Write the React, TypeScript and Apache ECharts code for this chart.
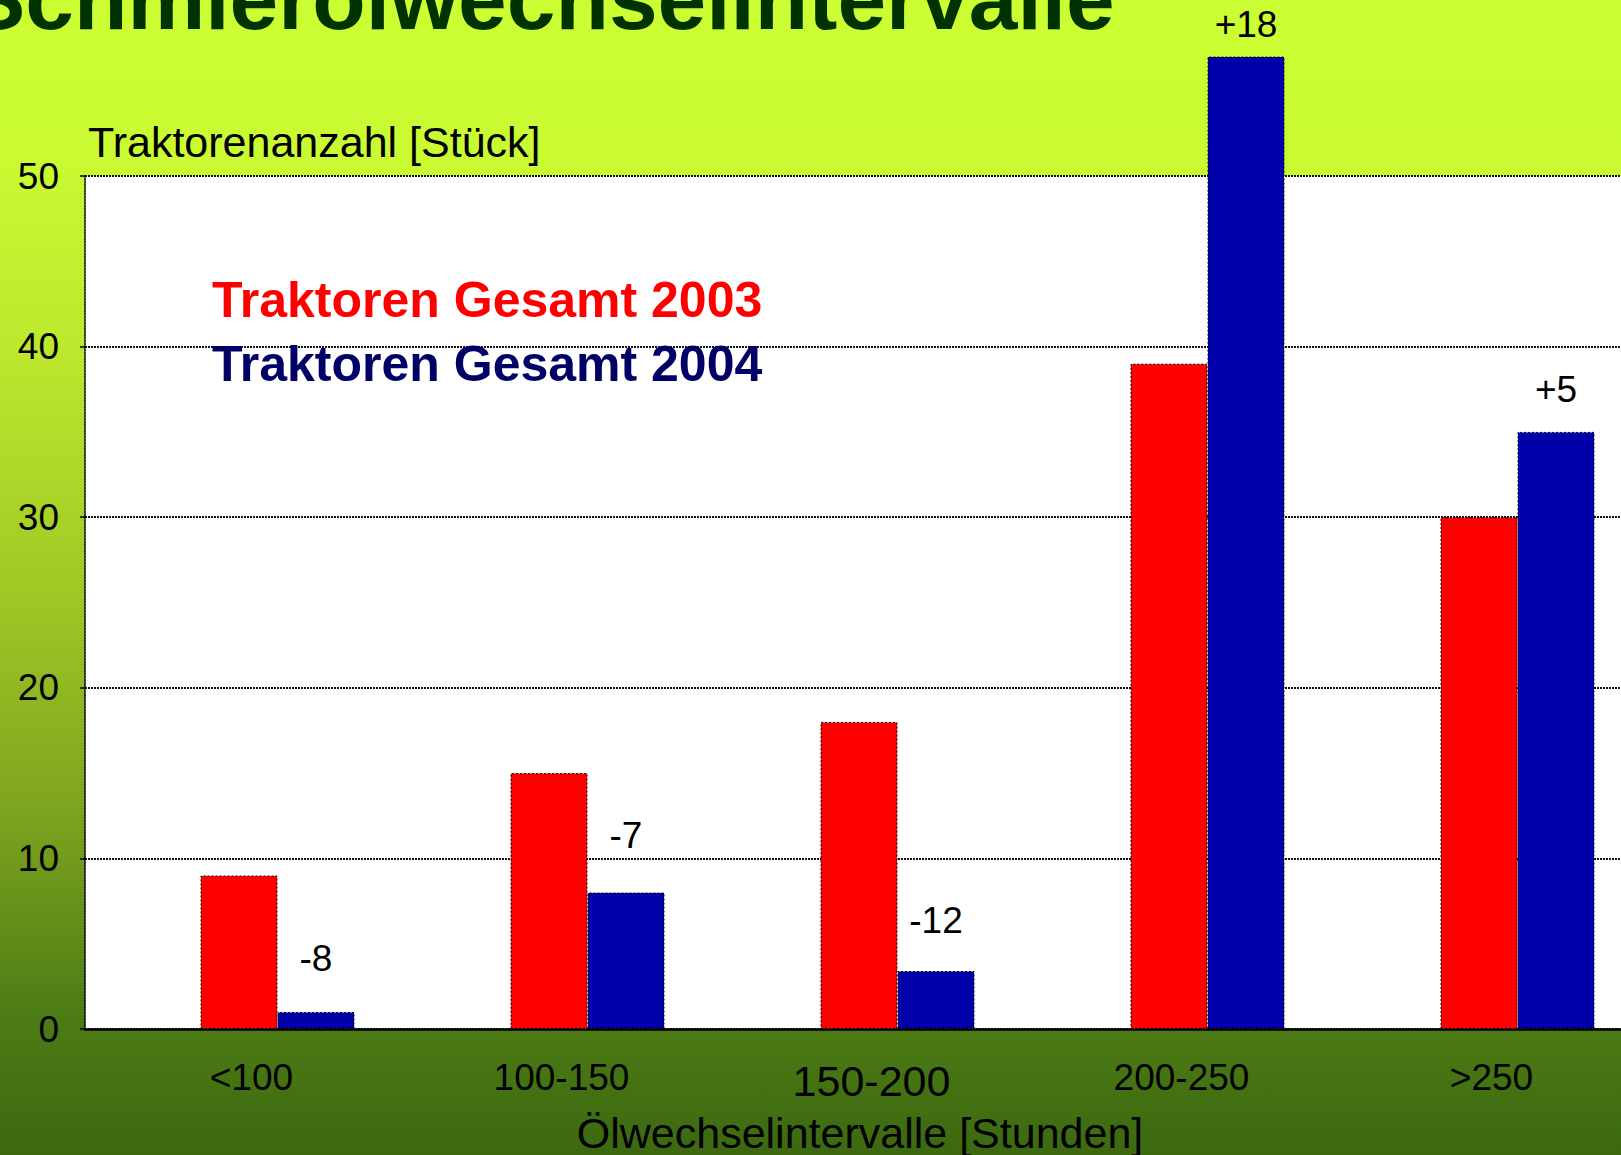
import React, { useEffect, useRef } from "react";
import * as echarts from "echarts";

const categories = ["<100", "100-150", "150-200", "200-250", ">250"];
const values2003 = [9, 15, 18, 39, 30];
const values2004 = [1, 8, 3.4, 57, 35];
const deltaLabels = ["-8", "-7", "-12", "+18", "+5"];
const seriesNames = ["Traktoren Gesamt 2003", "Traktoren Gesamt 2004"];
const yTicks = { min: 0, max: 50, interval: 10 };
const titleText = "Schmierölwechselintervalle";
const yName = "Traktorenanzahl [Stück]";
const xName = "Ölwechselintervalle [Stunden]";

// label styling (gap above each blue bar, in px)
const labelGaps = [35, 39, 32, 14, 24];

const FONT = "'Liberation Sans', Arial, sans-serif";

export default function App() {
  const ref = useRef<HTMLDivElement>(null);
  useEffect(() => {
    if (!ref.current) return;
    const chart = echarts.init(ref.current, null, { renderer: "svg" });
    const option: any = {
      animation: false,
      backgroundColor: {
        type: "linear",
        x: 0,
        y: 0,
        x2: 0,
        y2: 1,
        colorStops: [
          { offset: 0, color: "#ccff33" },
          { offset: 0.14, color: "#c9fa32" },
          { offset: 0.3, color: "#bde82e" },
          { offset: 0.5, color: "#a2ca26" },
          { offset: 0.7, color: "#7ea51f" },
          { offset: 0.88, color: "#4d7c15" },
          { offset: 1, color: "#3c6910" },
        ],
      },
      textStyle: { fontFamily: FONT },
      title: {
        text: titleText,
        left: -33,
        top: -45,
        padding: 0,
        textStyle: {
          fontFamily: FONT,
          fontWeight: "bold",
          fontSize: 87.5,
          color: "#003300",
        },
      },
      legend: {
        orient: "vertical",
        left: 207,
        top: 275,
        padding: 0,
        icon: "none",
        itemWidth: 0,
        itemHeight: 10,
        itemGap: 14,
        selectedMode: false,
        data: [
          {
            name: seriesNames[0],
            textStyle: { color: "#ff0000" },
          },
          {
            name: seriesNames[1],
            textStyle: { color: "#000066" },
          },
        ],
        textStyle: {
          fontFamily: FONT,
          fontWeight: "bold",
          fontSize: 50,
          lineHeight: 50,
        },
      },
      grid: [
        {
          left: 85,
          top: 176,
          width: 1550,
          height: 853,
          show: true,
          backgroundColor: "#ffffff",
          borderWidth: 0,
          outerBoundsMode: "none",
          containLabel: false,
        },
        {
          left: 122.5,
          top: 176,
          width: 1550,
          height: 853,
          show: false,
          outerBoundsMode: "none",
          containLabel: false,
        },
      ],
      xAxis: [
        {
          gridIndex: 0,
          type: "category",
          data: categories,
          name: xName,
          nameLocation: "middle",
          nameGap: 82,
          nameTextStyle: { fontFamily: FONT, fontSize: 43, color: "#000" },
          axisLine: { show: true, lineStyle: { color: "#000", width: 2.5 } },
          axisTick: { show: false },
          axisLabel: { show: false },
          splitLine: { show: false },
        },
        {
          gridIndex: 1,
          type: "category",
          data: categories,
          axisLine: { show: false },
          axisTick: { show: false },
          splitLine: { show: false },
          axisLabel: {
            fontFamily: FONT,
            fontSize: 37,
            color: "#000",
            margin: 30,
            padding: [0, 52, 0, 0],
            formatter: (v: string) => (v === "150-200" ? "{big|" + v + "}" : v),
            rich: { big: { fontFamily: FONT, fontSize: 43, color: "#000" } },
          },
        },
      ],
      yAxis: [
        {
          gridIndex: 0,
          type: "value",
          min: yTicks.min,
          max: yTicks.max,
          interval: yTicks.interval,
          name: yName,
          nameLocation: "end",
          nameGap: 34,
          nameTextStyle: {
            fontFamily: FONT,
            fontSize: 43,
            color: "#000",
            align: "left",
            verticalAlign: "middle",
            padding: [0, 0, 0, 3],
          },
          axisLine: {
            show: true,
            lineStyle: { color: "#000", width: 1.5, type: [2, 1] },
          },
          axisTick: {
            show: true,
            length: 5,
            lineStyle: { color: "#000", width: 1.5 },
          },
          axisLabel: {
            fontFamily: FONT,
            fontSize: 37,
            color: "#000",
            margin: 26,
          },
          splitLine: {
            show: true,
            lineStyle: { color: "#111", width: 2, type: [2, 1] },
          },
        },
        {
          gridIndex: 1,
          type: "value",
          min: yTicks.min,
          max: yTicks.max,
          interval: yTicks.interval,
          show: false,
          splitLine: { show: false },
        },
      ],
      series: [
        {
          name: seriesNames[0],
          type: "bar",
          xAxisIndex: 1,
          yAxisIndex: 1,
          data: values2003,
          barWidth: 77,
          barGap: "0%",
          clip: false,
          itemStyle: {
            color: "#ff0000",
            borderColor: "#000",
            borderWidth: 1,
            borderType: [2, 2],
          },
        },
        {
          name: seriesNames[1],
          type: "bar",
          xAxisIndex: 1,
          yAxisIndex: 1,
          data: values2004.map((v, i) => ({
            value: v,
            label: { distance: labelGaps[i] },
          })),
          barWidth: 77,
          barGap: "0%",
          clip: false,
          itemStyle: {
            color: "#0000aa",
            borderColor: "#000",
            borderWidth: 1,
            borderType: [2, 2],
          },
          label: {
            show: true,
            position: "top",
            fontFamily: FONT,
            fontSize: 37,
            color: "#000",
            formatter: (p: any) => deltaLabels[p.dataIndex],
          },
        },
      ],
    };
    chart.setOption(option);
    return () => chart.dispose();
  }, []);
  return (
    <div
      ref={ref}
      style={{ position: "absolute", left: 0, top: 0, width: 1621, height: 1155 }}
    />
  );
}
